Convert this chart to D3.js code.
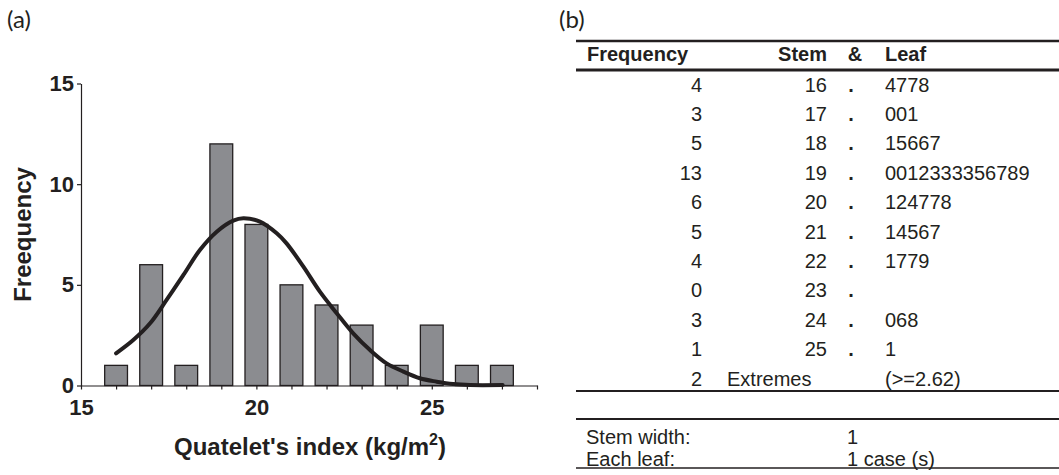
<!DOCTYPE html>
<html>
<head>
<meta charset="utf-8">
<script src="https://cdn.jsdelivr.net/npm/d3@7"></script>
<style>
  body { margin: 0; background: #fff; }
  svg { display: block; }
  .axis path, .axis line { stroke: #231f20; stroke-width: 1.2; }
  .axis text { font-family: "Liberation Sans", Arial, sans-serif; font-weight: bold; font-size: 22px; fill: #231f20; }
  .tbl text { font-family: "Liberation Sans", Arial, sans-serif; font-size: 20px; fill: #231f20; }
</style>
</head>
<body>
<svg id="render" width="1059" height="475"></svg>
<script>
// histogram (a)
let binCenters = [16, 17, 18, 19, 20, 21, 22, 23, 24, 25, 26, 27];
let binCounts  = [1, 6, 1, 12, 8, 5, 4, 3, 1, 3, 1, 1];
let yTicks = [0, 5, 10, 15];
let xTickLabels = [15, 20, 25];
// fitted curve
let curveX = [16.0, 16.49, 16.97, 17.44, 17.92, 18.39, 18.87, 19.34, 19.63, 20.10, 20.58, 20.86, 21.34, 21.81, 22.29, 22.76, 23.24, 23.71, 24.19, 24.66, 25.14, 25.61, 26.09, 27.02];
let curveY = [1.6, 2.26, 3.09, 4.25, 5.49, 6.73, 7.64, 8.19, 8.31, 8.14, 7.56, 7.06, 5.90, 4.66, 3.59, 2.59, 1.76, 1.10, 0.69, 0.36, 0.19, 0.07, 0.02, 0.02];

// stem & leaf (b)
let stemFreq = [4, 3, 5, 13, 6, 5, 4, 0, 3, 1];
let stems    = [16, 17, 18, 19, 20, 21, 22, 23, 24, 25];
let leaves   = ['4778', '001', '15667', '0012333356789', '124778', '14567', '1779', '', '068', '1'];
let extremesFreq = 2;
let extremesText = '(>=2.62)';
let headers = ['Frequency', 'Stem', '&', 'Leaf'];
let footLabels = ['Stem width:', 'Each leaf:'];
let footValues = ['1', '1 case (s)'];

let svg = d3.select('#render');
let ink = '#231f20';

// ---------- panel a ----------
let x = d3.scaleLinear().domain([15, 28]).range([81, 537]);
let y = d3.scaleLinear().domain([0, 15]).range([385.5, 83.5]);

svg.append('text')
  .attr('x', 7).attr('y', 28)
  .style('font-family', 'Lato, "Open Sans", sans-serif')
  .style('font-size', '24px').style('fill', ink)
  .text('(a)');

let bars = svg.append('g');
let bw = 0.65;
bars.selectAll('rect')
  .data(binCenters.map((c, i) => ({c: c, n: binCounts[i]})))
  .join('rect')
  .attr('x', d => x(d.c - bw/2))
  .attr('y', d => y(d.n))
  .attr('width', d => x(d.c + bw/2) - x(d.c - bw/2))
  .attr('height', d => y(0) - y(d.n))
  .style('fill', '#8b8c90')
  .style('stroke', ink)
  .style('stroke-width', 1.3);

svg.append('g')
  .attr('class', 'axis')
  .attr('transform', `translate(0,${y(0)})`)
  .call(d3.axisBottom(x).tickValues(d3.range(15, 29)).tickSize(4).tickSizeOuter(0)
    .tickPadding(10)
    .tickFormat(d => xTickLabels.includes(d) ? d : ''));

svg.append('g')
  .attr('class', 'axis')
  .attr('transform', `translate(${x(15)},0)`)
  .call(d3.axisLeft(y).tickValues(yTicks).tickSize(4).tickSizeOuter(0).tickPadding(3));

let line = d3.line()
  .x(d => x(d[0]))
  .y(d => y(d[1]))
  .curve(d3.curveCatmullRom);

svg.append('path')
  .datum(curveX.map((v, i) => [v, curveY[i]]))
  .attr('d', line)
  .style('fill', 'none')
  .style('stroke', ink)
  .style('stroke-width', 4)
  .style('stroke-linecap', 'round');

let xt = svg.append('text')
  .attr('x', 310).attr('y', 455)
  .attr('text-anchor', 'middle')
  .style('font-family', '"Liberation Sans", Arial, sans-serif')
  .style('font-weight', 'bold').style('font-size', '24px').style('fill', ink);
xt.append('tspan').text("Quatelet's index (kg/m");
xt.append('tspan').attr('dy', -10).style('font-size', '16px').text('2');
xt.append('tspan').attr('dy', 10).text(')');

svg.append('text')
  .attr('transform', `translate(31,${y(7.5)}) rotate(-90)`)
  .attr('text-anchor', 'middle')
  .style('font-family', '"Liberation Sans", Arial, sans-serif')
  .style('font-weight', 'bold').style('font-size', '24px').style('fill', ink)
  .text('Freequency');

// ---------- panel b ----------
svg.append('text')
  .attr('x', 559).attr('y', 28)
  .style('font-family', 'Lato, "Open Sans", sans-serif')
  .style('font-size', '24px').style('fill', ink)
  .text('(b)');

let tbl = svg.append('g').attr('class', 'tbl');
let tx0 = 576, tx1 = 1059;
let colFreq = 702, colStem = 827, colDot = 851, colLeaf = 885;

let rowY = d3.scaleLinear().domain([0, 10]).range([91.5, 385.5]);

function hline(yy, w) {
  tbl.append('line')
    .attr('x1', tx0).attr('x2', tx1).attr('y1', yy).attr('y2', yy)
    .style('stroke', ink).style('stroke-width', w);
}
hline(41, 2.5);
hline(70, 3);
hline(391, 2);
hline(419, 2);
hline(468, 1.5);

let hd = tbl.append('g').style('font-weight', 'bold');
hd.append('text').attr('x', 587).attr('y', 61).text(headers[0]);
hd.append('text').attr('x', colStem).attr('y', 61).attr('text-anchor', 'end').text(headers[1]);
hd.append('text').attr('x', 855).attr('y', 61).attr('text-anchor', 'middle').text(headers[2]);
hd.append('text').attr('x', colLeaf).attr('y', 61).text(headers[3]);

let rows = tbl.selectAll('.row')
  .data(stems.map((s, i) => ({s: s, f: stemFreq[i], l: leaves[i], i: i})))
  .join('g')
  .attr('class', 'row')
  .attr('transform', d => `translate(0,${rowY(d.i)})`);
rows.append('text').attr('x', colFreq).attr('text-anchor', 'end').text(d => d.f);
rows.append('text').attr('x', colStem).attr('text-anchor', 'end').text(d => d.s);
rows.append('text').attr('x', colDot).attr('text-anchor', 'middle').style('font-weight', 'bold').text('.');
rows.append('text').attr('x', colLeaf).text(d => d.l);

let ex = tbl.append('g').attr('transform', `translate(0,${rowY(10)})`);
ex.append('text').attr('x', colFreq).attr('text-anchor', 'end').text(extremesFreq);
ex.append('text').attr('x', 727).text('Extremes');
ex.append('text').attr('x', colLeaf).text(extremesText);

footLabels.forEach((lab, i) => {
  let yy = 444 + i * 21.5;
  tbl.append('text').attr('x', 586).attr('y', yy).text(lab);
  tbl.append('text').attr('x', 847).attr('y', yy).text(footValues[i]);
});
</script>
</body>
</html>
